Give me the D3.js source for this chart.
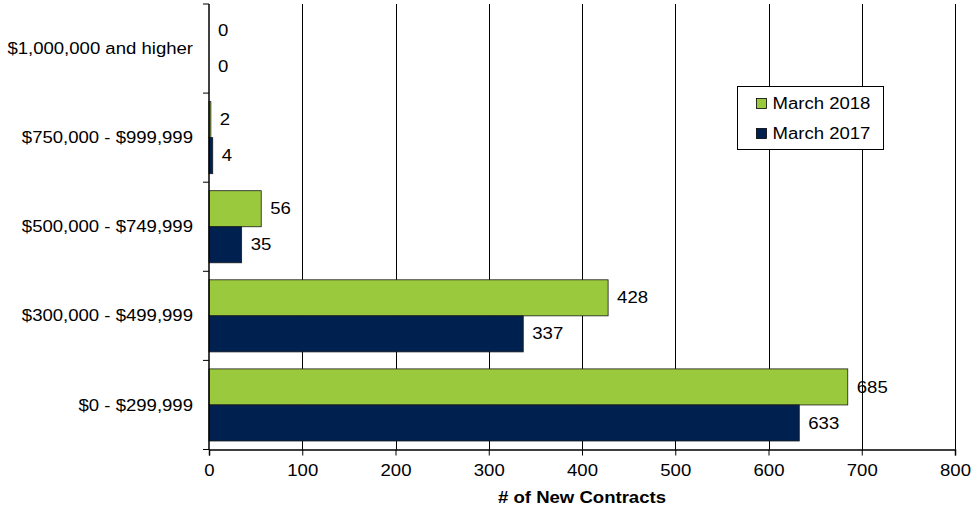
<!DOCTYPE html>
<html>
<head>
<meta charset="utf-8">
<script src="https://cdn.jsdelivr.net/npm/d3@7"></script>
<style>
  body { margin: 0; background: #fff; }
  svg { display: block; font-family: "Liberation Sans", Arial, sans-serif; }
</style>
</head>
<body>
<svg id="chart" width="972" height="509"></svg>
<script>
// Price ranges, bottom to top as drawn
const categories = ["$0 - $299,999", "$300,000 - $499,999", "$500,000 - $749,999", "$750,000 - $999,999", "$1,000,000 and higher"];
const seriesNames = ["March 2018", "March 2017"];
const march2018 = [685, 428, 56, 2, 0];
const march2017 = [633, 337, 35, 4, 0];
const xTicks = [0, 100, 200, 300, 400, 500, 600, 700, 800];
const colors = { "March 2018": "#9bc93d", "March 2017": "#002050" };

const FS = 16;        // label font size
const SX = 1.16;      // horizontal stretch of the lettering
const svg = d3.select("#chart");
const margin = { left: 209, right: 17, top: 4, bottom: 60 };
const W = 972, H = 509;
const plotBottom = H - margin.bottom + 0.5;

const x = d3.scaleLinear().domain([0, 800]).range([margin.left, W - margin.right]);
// top category first in the domain so the first price range sits at the bottom
const y = d3.scaleBand().domain(categories.slice().reverse()).range([margin.top, plotBottom]).padding(0);
const inner = d3.scaleBand().domain(seriesNames).range([0, y.bandwidth()]).paddingOuter(0.236).paddingInner(0);

// vertical gridlines
svg.append("g").selectAll("line").data(xTicks.slice(1)).join("line")
  .attr("x1", d => Math.round(x(d)) + 0.5).attr("x2", d => Math.round(x(d)) + 0.5)
  .attr("y1", margin.top).attr("y2", plotBottom)
  .attr("stroke", "#000").attr("stroke-width", 1);

// bars
const rows = categories.map((c, i) => ({ cat: c, vals: [march2018[i], march2017[i]] }));
const grp = svg.append("g").selectAll("g").data(rows).join("g")
  .attr("transform", d => `translate(0,${y(d.cat)})`);
grp.selectAll("rect").data(d => d.vals.map((v, j) => ({ s: seriesNames[j], v })))
  .join("rect")
  .attr("x", x(0))
  .attr("y", d => inner(d.s))
  .attr("width", d => x(d.v) - x(0))
  .attr("height", inner.bandwidth())
  .attr("fill", d => colors[d.s])
  .attr("stroke", d => d.v > 0 ? "#1a1a1a" : "none")
  .attr("stroke-width", 0.8);
grp.selectAll("text").data(d => d.vals.map((v, j) => ({ s: seriesNames[j], v })))
  .join("text")
  .attr("transform", d => `translate(${x(d.v) + 9},${inner(d.s) + inner.bandwidth() / 2}) scale(${SX},1)`)
  .attr("dy", "0.35em")
  .attr("font-size", FS)
  .attr("fill", "#000")
  .text(d => d.v);

// x axis
const xAxis = svg.append("g").attr("transform", `translate(0,${plotBottom})`)
  .call(d3.axisBottom(x).tickValues(xTicks).tickSize(6).tickPadding(9).tickFormat(d3.format("d")));
xAxis.selectAll("text").attr("font-size", FS).attr("fill", "#000")
  .attr("transform", `scale(${SX},1)`)
  .style("font-family", "Liberation Sans, Arial, sans-serif");
xAxis.select(".domain").attr("stroke", "#000").attr("stroke-width", 1.5);
xAxis.selectAll(".tick line").attr("stroke", "#000");

// y axis with ticks at band boundaries
const yAxis = svg.append("g").attr("transform", `translate(${x(0)},0)`);
yAxis.append("line").attr("x1", 0).attr("x2", 0).attr("y1", margin.top).attr("y2", plotBottom)
  .attr("stroke", "#000").attr("stroke-width", 1.5);
const bounds = categories.map(c => y(c)).concat([plotBottom]);
yAxis.selectAll("line.t").data(bounds).join("line").attr("class", "t")
  .attr("x1", -6).attr("x2", 0).attr("y1", d => d).attr("y2", d => d)
  .attr("stroke", "#000");
yAxis.selectAll("text").data(categories).join("text")
  .attr("transform", d => `translate(-16,${y(d) + y.bandwidth() / 2}) scale(${SX},1)`)
  .attr("dy", "0.35em")
  .attr("text-anchor", "end")
  .attr("font-size", FS)
  .attr("fill", "#000")
  .text(d => d);

// axis title
svg.append("text")
  .attr("transform", `translate(${(x(0) + x(800)) / 2},503) scale(${SX},1)`)
  .attr("text-anchor", "middle")
  .attr("font-size", 16).attr("font-weight", "bold")
  .text("# of New Contracts");

// legend
const lg = svg.append("g").attr("transform", "translate(737.5,86.5)");
lg.append("rect").attr("width", 146).attr("height", 63).attr("fill", "#fff").attr("stroke", "#000");
seriesNames.forEach((s, i) => {
  const cy = 17 + i * 30;
  lg.append("rect").attr("x", 19).attr("y", cy - 5).attr("width", 10).attr("height", 10)
    .attr("fill", colors[s]).attr("stroke", "#000").attr("stroke-width", 0.8);
  lg.append("text").attr("transform", `translate(35,${cy}) scale(${SX},1)`).attr("dy", "0.35em")
    .attr("font-size", FS).text(s);
});
</script>
</body>
</html>
